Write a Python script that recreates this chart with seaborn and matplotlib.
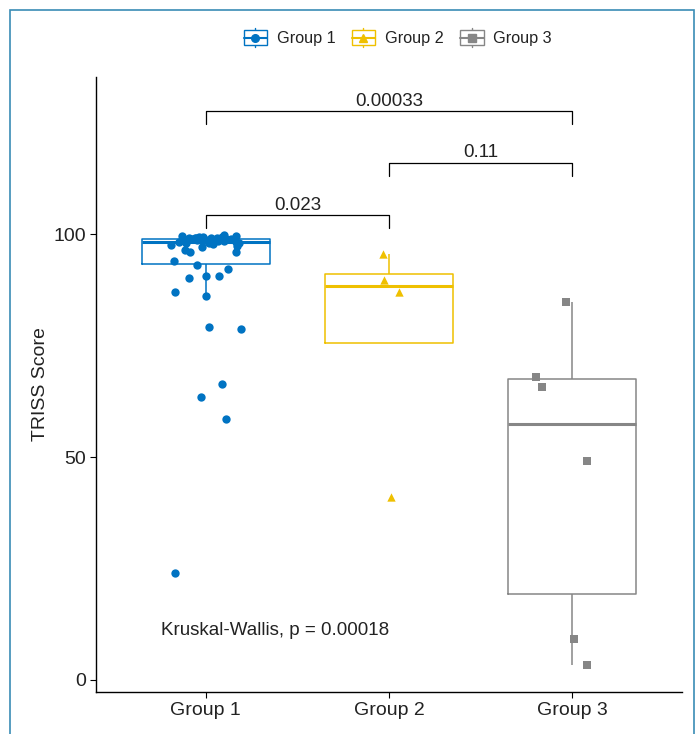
import numpy as np
import pandas as pd
import matplotlib.pyplot as plt
import seaborn as sns
from matplotlib.lines import Line2D
from matplotlib.patches import Rectangle
from matplotlib.legend_handler import HandlerBase

groups = ['Group 1', 'Group 2', 'Group 3']
colors = ['#0073C2', '#EFC000', '#868686']
markers = ['o', '^', 's']

# TRISS scores
group1 = [23.9, 58.5, 63.4, 66.4, 78.7, 79.2, 86.0, 86.9, 90.1, 90.7, 90.7, 92.2,
          93.0, 94.0, 95.9, 95.9, 96.5,
          97.0, 97.3, 97.5, 97.7, 97.9, 98.0, 98.1, 98.3, 98.3, 98.4, 98.5,
          98.5, 98.6, 98.6, 98.7, 98.7, 98.8, 98.8, 98.8, 98.9, 98.9, 99.0,
          99.0, 99.1, 99.1, 99.2, 99.2, 99.3, 99.3, 99.4, 99.5, 99.6, 99.7]
group2 = [95.5, 89.7, 87.1, 41.1]
group3 = [84.8, 68.0, 65.8, 49.1, 9.2, 3.4]

# pairwise comparisons (left group, right group, label, bracket height)
pairs = [(0, 1, '0.023', 104.3), (1, 2, '0.11', 116.0), (0, 2, '0.00033', 127.6)]
kw_label = 'Kruskal-Wallis, p = 0.00018'

df = pd.DataFrame({
    'group': ['Group 1'] * len(group1) + ['Group 2'] * len(group2) + ['Group 3'] * len(group3),
    'score': group1 + group2 + group3,
})

sns.set_style('ticks')
plt.rcParams['font.family'] = ['Liberation Sans', 'DejaVu Sans']
txt = '#222222'

fig = plt.figure(figsize=(6.99, 7.34), dpi=100)
ax = fig.add_axes([0.1373, 0.0572, 0.8384, 0.8378])

sns.boxplot(data=df, x='group', y='score', hue='group', order=groups, hue_order=groups,
            palette=colors, fill=False, showfliers=False, width=0.7, linewidth=1.1,
            showcaps=False, medianprops=dict(linewidth=2.2), legend=False, ax=ax)

np.random.seed(7)
for g, c, m in zip(groups, colors, markers):
    sns.stripplot(data=df[df['group'] == g], x='group', y='score', order=groups,
                  color=c, marker=m, size=6 if m != 's' else 5.5, jitter=0.2,
                  linewidth=0, ax=ax)

# significance brackets
for i, j, lab, h in pairs:
    ax.plot([i, i, j, j], [h - 2.9, h, h, h - 2.9], color='black', lw=0.9)
    ax.text((i + j) / 2, h + 1.2, lab, ha='center', va='baseline', fontsize=13.5, color=txt)

ax.text(-0.245, 11.0, kw_label, ha='left', va='center', fontsize=13.5, color=txt)

ax.set_xlim(-0.6, 2.6)
ax.set_ylim(-2.7, 135.2)
ax.set_yticks([0, 50, 100])
ax.set_xlabel('')
ax.set_ylabel('TRISS Score', fontsize=14, color=txt, labelpad=3)
ax.tick_params(labelsize=14, labelcolor=txt, color='black', length=4)
ax.tick_params(axis='y', pad=3)
sns.despine(ax=ax)
for s in ['left', 'bottom']:
    ax.spines[s].set_linewidth(1.0)
    ax.spines[s].set_color('black')


class BoxHandler(HandlerBase):
    def create_artists(self, legend, orig_handle, xdescent, ydescent, width, height, fontsize, trans):
        c = orig_handle.get_color()
        x0, y0 = -xdescent, -ydescent
        cx, cy = x0 + width / 2, y0 + height / 2
        box = Rectangle((x0, y0), width, height,
                        facecolor='white', edgecolor=c, lw=1.0, transform=trans)
        mid = Line2D([x0, x0 + width], [cy, cy], color=c, lw=1.5, transform=trans)
        wh = Line2D([cx, cx], [y0 - 0.15 * height, y0 + 1.15 * height], color=c, lw=1.0, transform=trans)
        pt = Line2D([cx], [cy], marker=orig_handle.get_marker(), color=c, markersize=5.5,
                    linestyle='none', transform=trans)
        return [wh, box, mid, pt]


handles = [Line2D([], [], color=c, marker=m) for c, m in zip(colors, markers)]
fig.legend(handles, groups, handler_map={Line2D: BoxHandler()}, loc='center',
           bbox_to_anchor=(0.569, 0.948), ncol=3, frameon=False, fontsize=11.7,
           handlelength=1.45, handleheight=1.05, handletextpad=0.6, columnspacing=1.0,
           labelcolor=txt)

# outer frame of the screenshot
fig.patches.append(Rectangle((0.0143, -0.02), 0.9785, 1.0064, transform=fig.transFigure,
                             fill=False, edgecolor='#3A8CB5', lw=1.2))

fig.savefig('out.png', dpi=100)
